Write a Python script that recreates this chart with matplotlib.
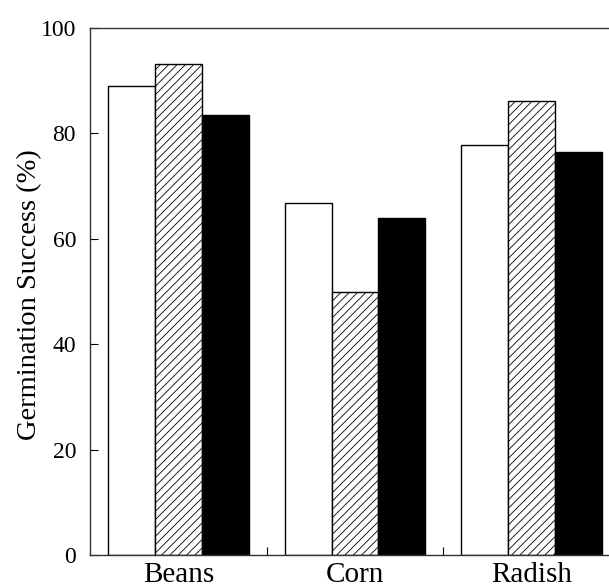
import numpy as np
import matplotlib.pyplot as plt

# --- Data ---
crops = ["Beans", "Corn", "Radish"]
open_vals = [88.9, 66.7, 77.8]
hatched_vals = [93.2, 50.0, 86.2]
solid_vals = [83.4, 63.9, 76.4]
y_ticks = [0, 20, 40, 60, 80, 100]

plt.rcParams['font.family'] = ['Liberation Serif', 'DejaVu Serif']
plt.rcParams['font.size'] = 17
plt.rcParams['hatch.linewidth'] = 0.6

fig = plt.figure(figsize=(6.09, 5.85), dpi=100)
# axes runs a little past the right edge, as in the original picture
ax = fig.add_axes([90 / 609, 1 - 555 / 585, 530 / 609, 527 / 585])

x = np.arange(len(crops))
w = 0.266

ax.bar(x - w, open_vals, w, color='white', edgecolor='black', linewidth=1)
ax.bar(x, hatched_vals, w, color='white', edgecolor='black', linewidth=1, hatch='////')
ax.bar(x + w, solid_vals, w, color='black', edgecolor='black', linewidth=1)

ax.set_xlim(-0.5, 2.5)
ax.set_ylim(0, 100)
ax.set_yticks(y_ticks)
ax.set_xticks(x)
ax.set_xticklabels(crops, fontsize=21)
ax.set_xticks([0.5, 1.5], minor=True)
ax.tick_params(axis='x', which='major', length=0, pad=5)
ax.tick_params(axis='x', which='minor', direction='in', length=6, width=0.8)
ax.tick_params(axis='y', direction='in', length=6, width=0.8, pad=10)
ax.set_ylabel("Germination Success (%)", fontsize=20.5)
ax.yaxis.set_label_coords(-0.091, 0.494)

for s in ax.spines.values():
    s.set_linewidth(1)
    s.set_color('#333333')

fig.savefig("out.png", dpi=100)
